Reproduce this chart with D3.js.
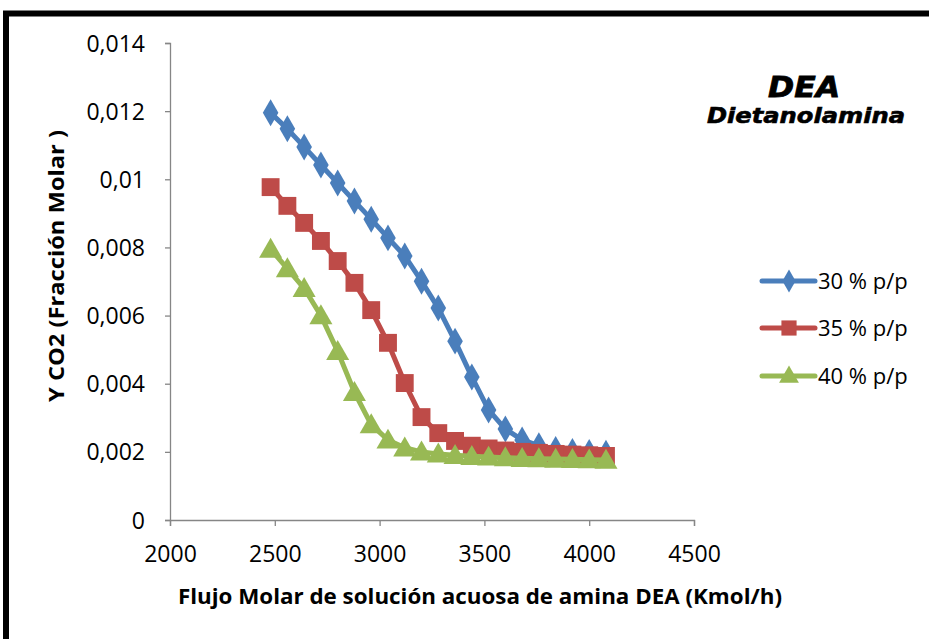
<!DOCTYPE html>
<html><head><meta charset="utf-8">
<script src="https://cdn.jsdelivr.net/npm/d3@7"></script>
<style>body{margin:0;background:#fff}svg{display:block}</style>
</head><body>
<svg id="c" width="929" height="639"></svg>
<script>
const xValues = [2480,2560,2640,2720,2800,2880,2960,3040,3120,3200,3280,3360,3440,3520,3600,3680,3760,3840,3920,4000,4080];
const seriesNames = ["30 % p/p","35 % p/p","40 % p/p"];
const y30 = [0.01195,0.01148,0.01095,0.01042,0.00989,0.00936,0.00883,0.00828,0.00775,0.00701,0.00622,0.00525,0.00420,0.00323,0.00267,0.00235,0.00218,0.00207,0.00201,0.00198,0.00196];
const y35 = [0.00977,0.00922,0.00872,0.00819,0.00760,0.00696,0.00616,0.00520,0.00402,0.00302,0.00255,0.00232,0.00218,0.00210,0.00204,0.00200,0.00197,0.00194,0.00192,0.00190,0.00188];
const y40 = [0.00795,0.00738,0.00680,0.00600,0.00495,0.00375,0.00280,0.00235,0.00212,0.00200,0.00194,0.00190,0.00187,0.00185,0.00183,0.00181,0.00180,0.00179,0.00178,0.00177,0.00176];
const xTicks = [2000,2500,3000,3500,4000,4500];
const yTicks = [0,0.002,0.004,0.006,0.008,0.01,0.012,0.014];
const colors = ["#4A7EBB","#BE4B48","#98B954"];
const symbols = [d3.symbolDiamond, d3.symbolSquare, d3.symbolTriangle];

const svg = d3.select("#c");
const font = "'Open Sans', 'Noto Sans', sans-serif";

// outer frame
svg.append("rect").attr("x",6).attr("y",13.5).attr("width",1000).attr("height",700)
  .attr("fill","none").attr("stroke","#000").attr("stroke-width",6);

const x = d3.scaleLinear().domain([2000,4500]).range([170,694]);
const y = d3.scaleLinear().domain([0,0.014]).range([520,43]);
const fmt = v => v===0 ? "0" : String(+v.toFixed(3)).replace(".",",");

const gy = svg.append("g").attr("transform","translate(170,0)")
  .call(d3.axisLeft(y).tickValues(yTicks).tickFormat(fmt).tickSize(5).tickPadding(20));
const gx = svg.append("g").attr("transform","translate(0,520)")
  .call(d3.axisBottom(x).tickValues(xTicks).tickFormat(d=>d).tickSize(6).tickPadding(18));
[gx,gy].forEach(g=>{
  g.selectAll("path,line").attr("stroke","#868686").attr("stroke-width",1.3);
  g.selectAll("text").attr("font-family",font).attr("font-size",23).attr("fill","#000");
});
gy.selectAll("text").attr("dy","0.35em");
gx.selectAll("text").attr("dy","0.8em");

// axis titles
svg.append("text").attr("x",480).attr("y",604).attr("text-anchor","middle")
  .attr("font-family",font).attr("font-weight","bold").attr("font-size",22)
  .attr("textLength",604).attr("lengthAdjust","spacingAndGlyphs")
  .text("Flujo Molar de solución acuosa de amina DEA (Kmol/h)");
svg.append("text").attr("transform","translate(64,266) rotate(-90)").attr("text-anchor","middle")
  .attr("font-family",font).attr("font-weight","bold").attr("font-size",22)
  .attr("textLength",272).attr("lengthAdjust","spacingAndGlyphs")
  .text("Y CO2 (Fracción Molar )");

// annotation
svg.append("text").attr("x",804).attr("y",97).attr("text-anchor","middle")
  .attr("font-family","'DejaVu Sans', sans-serif").attr("font-weight","bold").attr("font-style","italic")
  .attr("font-size",28).attr("textLength",72).attr("lengthAdjust","spacingAndGlyphs")
  .attr("stroke","#000").attr("stroke-width",0.8).text("DEA");
svg.append("text").attr("x",806).attr("y",123).attr("text-anchor","middle")
  .attr("font-family","'DejaVu Sans', sans-serif").attr("font-weight","bold").attr("font-style","italic")
  .attr("font-size",21).attr("textLength",198).attr("lengthAdjust","spacingAndGlyphs")
  .attr("stroke","#000").attr("stroke-width",0.6).text("Dietanolamina");

// series
const data = [y30,y35,y40];
const line = d3.line().x((d,i)=>x(xValues[i])).y(d=>y(d));
const sizes = [210, 320, 230];
data.forEach((s,k)=>{
  const g = svg.append("g");
  g.append("path").datum(s).attr("d",line).attr("fill","none")
    .attr("stroke",colors[k]).attr("stroke-width",5).attr("stroke-linejoin","round");
  g.selectAll("path.m").data(s).join("path").attr("class","m")
    .attr("transform",(d,i)=>`translate(${x(xValues[i])},${y(d)+(k===2?2:0)})`)
    .attr("d",d3.symbol().type(symbols[k]).size(sizes[k])).attr("fill",colors[k]);
});

// legend
const lg = svg.append("g");
const ly = [281,328,376];
const lsizes = [150, 230, 170];
seriesNames.forEach((n,k)=>{
  lg.append("line").attr("x1",762).attr("x2",815).attr("y1",ly[k]).attr("y2",ly[k])
    .attr("stroke",colors[k]).attr("stroke-width",5).attr("stroke-linecap","round");
  lg.append("path").attr("transform",`translate(789,${ly[k]+(k===2?1:0)})`)
    .attr("d",d3.symbol().type(symbols[k]).size(lsizes[k])).attr("fill",colors[k]);
  lg.append("text").attr("x",818).attr("y",ly[k]).attr("dy","0.36em")
    .attr("font-family",font).attr("font-size",22).text(n);
});
</script>
</body></html>
